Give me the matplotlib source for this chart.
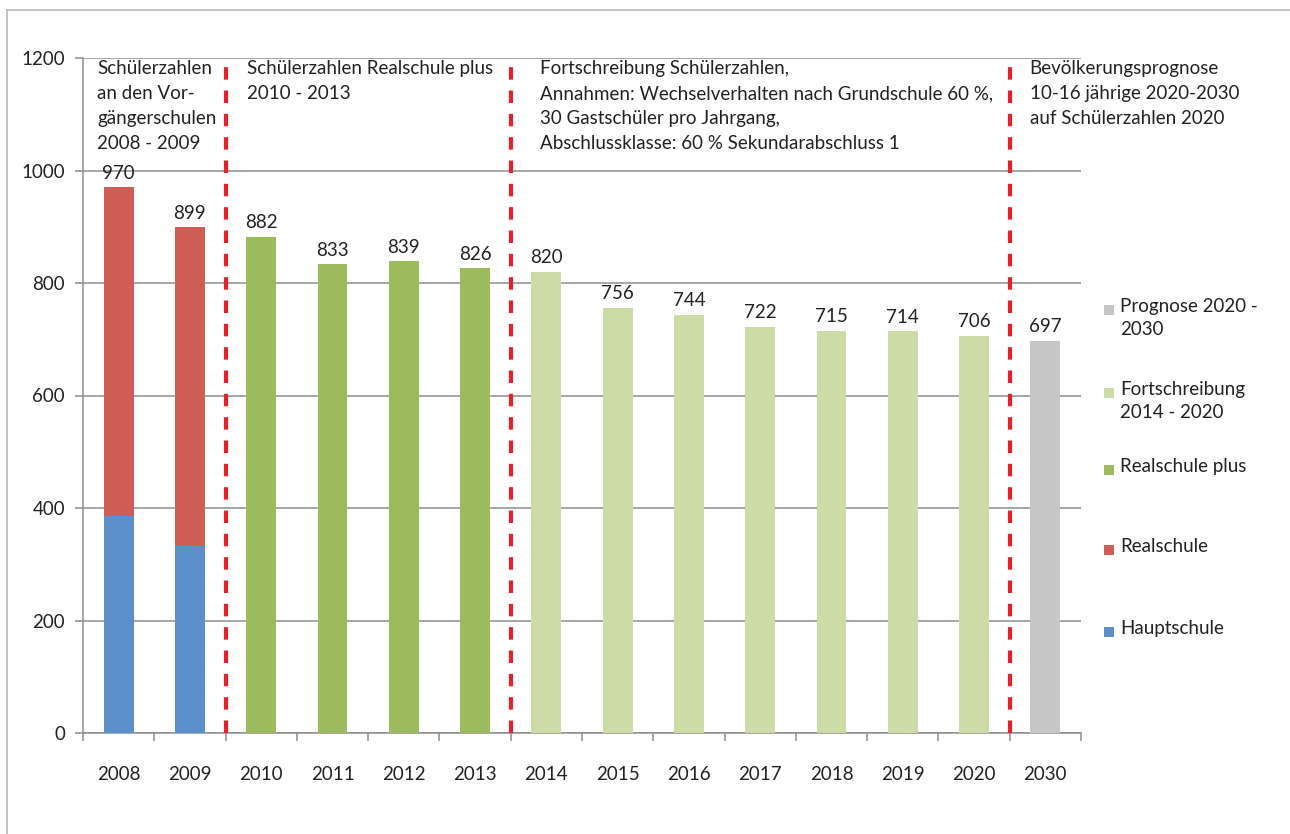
import matplotlib
matplotlib.use("Agg")
import matplotlib.pyplot as plt
from matplotlib.patches import Rectangle
from matplotlib.lines import Line2D
import numpy as np

plt.rcParams['font.family'] = ['Lato', 'DejaVu Sans']

# --- data -----------------------------------------------------------------
years = ["2008", "2009", "2010", "2011", "2012", "2013", "2014",
         "2015", "2016", "2017", "2018", "2019", "2020", "2030"]
hauptschule = [386, 332, 0, 0, 0, 0, 0, 0, 0, 0, 0, 0, 0, 0]
realschule = [584, 567, 0, 0, 0, 0, 0, 0, 0, 0, 0, 0, 0, 0]
realschule_plus = [0, 0, 882, 833, 839, 826, 0, 0, 0, 0, 0, 0, 0, 0]
fortschreibung = [0, 0, 0, 0, 0, 0, 820, 756, 744, 722, 715, 714, 706, 0]
prognose = [0, 0, 0, 0, 0, 0, 0, 0, 0, 0, 0, 0, 0, 697]
totals = [970, 899, 882, 833, 839, 826, 820, 756, 744, 722, 715, 714, 706, 697]

series_names = ["Hauptschule", "Realschule", "Realschule plus",
                "Fortschreibung\n2014 - 2020", "Prognose 2020 -\n2030"]
series_colors = ["#5B8FCB", "#CF5F56", "#9DBB5C", "#CDDBA6", "#C6C6C6"]

section_notes = [
    "Schülerzahlen\nan den Vor-\ngängerschulen\n2008 - 2009",
    "Schülerzahlen Realschule plus\n2010 - 2013",
    "Fortschreibung Schülerzahlen,\nAnnahmen: Wechselverhalten nach Grundschule 60 %,\n"
    "30 Gastschüler pro Jahrgang,\nAbschlussklasse: 60 % Sekundarabschluss 1",
    "Bevölkerungsprognose\n10-16 jährige 2020-2030\nauf Schülerzahlen 2020",
]
section_starts = [0, 2, 6, 13]

# --- figure ---------------------------------------------------------------
fig = plt.figure(figsize=(12.9, 8.34), dpi=100)
ax = fig.add_axes([83 / 1290, 1 - 733 / 834, (1081 - 83) / 1290, (733 - 58) / 834])

x = np.arange(len(years))
width = 0.42
stack = [hauptschule, realschule, realschule_plus, fortschreibung, prognose]
bottom = np.zeros(len(years))
for vals, col in zip(stack, series_colors):
    vals = np.array(vals, dtype=float)
    ax.bar(x, vals, width, bottom=bottom, color=col, zorder=3)
    bottom += vals

text_col = "#222222"
fs = 13.5
for xi, t in zip(x, totals):
    ax.annotate(str(t), (xi, t), xytext=(0, 4), textcoords="offset points",
                ha="center", va="bottom", fontsize=fs, color=text_col, zorder=5)

# section separators
for s in section_starts[1:]:
    ax.axvline(s - 0.5, ymin=0, ymax=1, color="#E8202A", lw=3,
               dashes=(3.0, 2.6), zorder=4)

# section descriptions
note_x = [-0.30, 1.80, 5.91, 12.78]
for nx, note in zip(note_x, section_notes):
    ax.text(nx, 1196, note, ha="left", va="top", fontsize=fs,
            color=text_col, linespacing=1.56, zorder=6)

ax.set_xlim(-0.5, len(years) - 0.5)
ax.set_ylim(0, 1200)
ax.set_yticks(np.arange(0, 1201, 200))
ax.yaxis.grid(True, color="#8E8E8E", lw=1.1, zorder=1)
ax.set_axisbelow(True)

ax.set_xticks(x)
ax.set_xticklabels(years)
ax.set_xticks(np.arange(-0.5, len(years), 1.0), minor=True)
ax.tick_params(axis="x", which="major", length=0, pad=24, labelsize=fs,
               labelcolor=text_col)
ax.tick_params(axis="x", which="minor", length=6, color="#8E8E8E", width=1.1)
ax.tick_params(axis="y", length=6, color="#8E8E8E", width=1.1, pad=7,
               labelsize=fs, labelcolor=text_col)

for side in ["top", "right"]:
    ax.spines[side].set_visible(False)
for side in ["left", "bottom"]:
    ax.spines[side].set_color("#8E8E8E")
    ax.spines[side].set_linewidth(1.1)

# legend (top entry = last series)
legend_y = [310, 393, 470, 550, 632]
for name, col, ly in zip(series_names[::-1], series_colors[::-1], legend_y):
    fig.patches.append(Rectangle((1104 / 1290, 1 - (ly + 5) / 834), 10 / 1290, 10 / 834,
                                 transform=fig.transFigure, facecolor=col,
                                 edgecolor="none"))
    fig.text(1120 / 1290, 1 - (ly - 12) / 834, name, ha="left", va="top",
             fontsize=fs, color=text_col, linespacing=1.4)

# outer frame (top and left edges)
frame_x0, frame_y0 = 7 / 1290, 1 - 10 / 834
fig.lines.append(Line2D([frame_x0, 1.0], [frame_y0, frame_y0], transform=fig.transFigure,
                        color="#BFBFBF", lw=1.3))
fig.lines.append(Line2D([frame_x0, frame_x0], [0.0, frame_y0], transform=fig.transFigure,
                        color="#BFBFBF", lw=1.3))

fig.savefig("out.png", dpi=100)
